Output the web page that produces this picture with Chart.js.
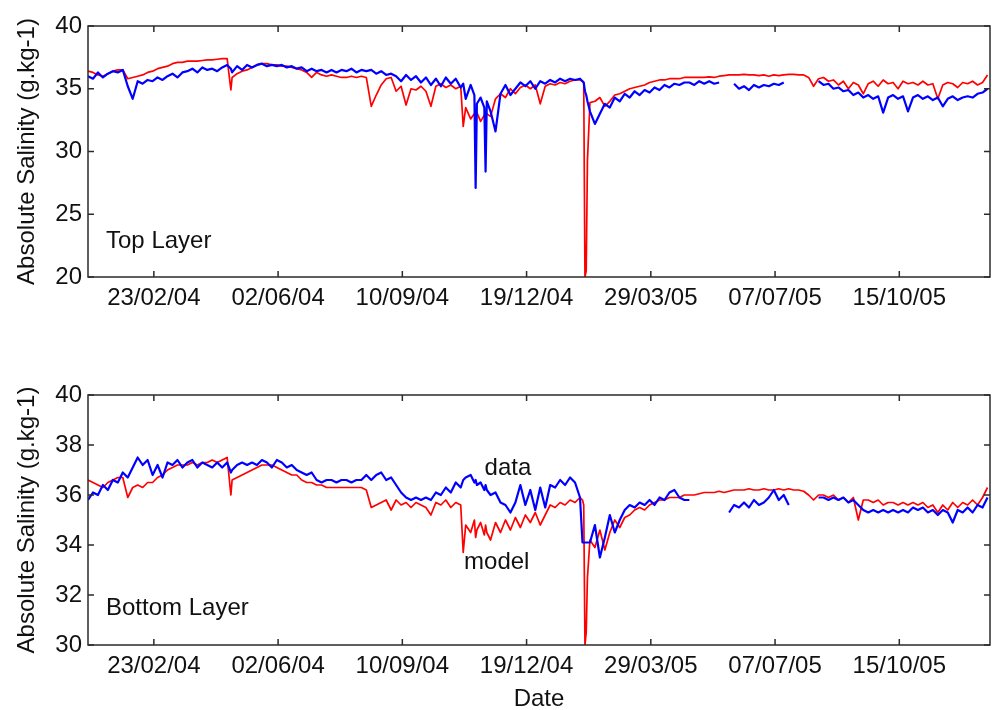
<!DOCTYPE html>
<html><head><meta charset="utf-8">
<script src="https://cdn.jsdelivr.net/npm/chart.js@4/dist/chart.umd.min.js"></script>
<style>
html,body{margin:0;padding:0;background:#fff;overflow:hidden;}
#wrap{position:relative;width:992px;height:710px;}
canvas{position:absolute;left:0;}
</style></head><body>
<div id="wrap">
<canvas id="c1" width="992" height="330" style="top:0px"></canvas>
<canvas id="c2" width="992" height="384" style="top:330px"></canvas>
</div>
<script>
// Days since 01/01/2004
const days = [
  0,4,8,12,16,20,24,28,32,36,
  40,44,48,52,56,60,64,68,72,76,
  80,84,88,92,96,100,104,108,112,115,
  116,120,124,128,132,136,140,144,148,152,
  156,160,164,168,172,176,180,184,188,192,
  196,200,204,208,212,216,220,224,228,232,
  236,240,244,248,252,256,260,264,268,272,
  276,280,284,288,292,296,300,302,304,308,
  311,312,313,316,319,320,321,324,328,332,
  336,340,344,348,352,356,360,364,368,372,
  376,380,384,388,392,396,398,399,400,401,
  402,404,408,412,416,420,424,428,432,436,
  440,444,448,452,456,460,464,468,472,476,
  480,484,488,492,496,500,504,508,512,516,
  520,524,528,532,536,540,544,548,552,556,
  560,564,568,572,576,580,584,588,592,596,
  600,604,608,612,616,620,624,628,632,636,
  640,644,648,652,656,660,664,668,672,676,
  680,684,688,692,696,700,704,708,712,716,
  720,724
];

const topModel = [
  36.4,36.3,36.1,36.0,36.2,36.4,36.5,36.5,35.8,35.9,
  36.0,36.1,36.3,36.4,36.6,36.7,36.8,37.0,37.1,37.1,
  37.2,37.2,37.2,37.25,37.3,37.3,37.35,37.4,37.4,34.9,
  35.9,36.2,36.4,36.5,36.7,36.9,37.0,37.0,36.9,36.9,
  36.8,36.8,36.7,36.6,36.5,36.3,35.9,36.3,36.1,36.0,
  36.1,36.0,35.9,35.9,36.0,35.9,36.0,35.9,33.6,34.5,
  35.3,35.8,35.9,34.8,35.2,33.7,35.0,34.9,35.2,34.8,
  33.6,35.2,35.4,35.1,35.3,35.0,35.2,32.0,33.5,32.6,
  33.0,33.3,33.1,32.4,32.9,33.2,33.0,32.8,34.2,34.6,
  34.3,35.0,34.6,35.1,35.3,35.0,35.3,33.8,35.2,35.4,
  35.3,35.5,35.4,35.6,35.7,35.7,35.6,35.5,20.0,20.5,
  29.3,33.9,34.0,34.3,33.6,34.0,34.5,34.6,34.8,35.0,
  35.1,35.2,35.3,35.5,35.6,35.7,35.7,35.8,35.8,35.8,
  35.9,35.9,35.9,35.9,35.9,35.95,35.9,36.0,36.05,36.1,
  36.1,36.1,36.15,36.1,36.1,36.05,36.1,36.0,36.1,36.05,
  36.1,36.15,36.15,36.1,36.1,35.9,35.2,35.8,35.9,35.6,
  35.7,35.3,35.6,35.0,35.5,35.3,34.6,35.4,35.6,35.2,
  35.7,35.4,35.5,35.0,35.6,35.4,35.5,35.3,35.6,35.3,
  35.4,34.2,35.3,35.5,35.4,35.1,35.5,35.4,35.6,35.3,
  35.5,36.1
];

const topData = [
  36.0,35.8,36.3,35.9,36.2,36.4,36.3,36.5,35.2,34.2,
  35.6,35.4,35.7,35.6,35.9,35.7,36.0,36.2,35.9,36.3,
  36.4,36.6,36.3,36.7,36.5,36.6,36.4,36.7,36.9,36.6,
  36.3,36.8,36.5,36.9,36.7,36.9,37.0,36.8,36.9,36.8,
  36.9,36.7,36.8,36.6,36.7,36.4,36.6,36.4,36.5,36.3,
  36.5,36.3,36.5,36.4,36.6,36.3,36.5,36.4,36.5,36.2,
  36.4,36.1,36.2,36.0,35.6,36.1,35.7,36.0,35.5,35.9,
  35.3,35.8,35.2,35.9,35.4,35.8,35.1,35.4,34.2,35.3,
  34.5,27.1,33.8,34.3,33.5,28.4,34.0,33.2,31.6,34.6,
  35.3,34.5,35.0,35.5,35.2,35.6,35.0,35.6,35.4,35.7,
  35.5,35.8,35.6,35.8,35.7,35.8,35.6,35.5,34.8,34.5,
  34.0,33.2,32.2,33.0,33.8,33.5,34.3,34.0,34.6,34.3,
  34.8,34.5,34.9,34.7,35.1,34.9,35.3,35.1,35.4,35.3,
  35.5,35.5,35.3,35.6,35.4,35.6,35.4,35.5,null,null,
  35.4,35.0,35.2,34.9,35.3,35.1,35.3,35.2,35.4,35.3,
  35.5,null,null,null,null,null,null,35.6,35.3,35.4,
  35.0,35.1,34.8,34.9,34.5,34.7,34.3,34.5,34.2,34.4,
  33.1,34.3,34.5,34.2,34.4,33.2,34.3,34.5,34.2,34.4,
  34.1,34.3,33.6,34.2,34.4,34.1,34.3,34.4,34.3,34.6,
  34.7,35.0
];

const bottomModel = [
  36.6,36.5,36.4,36.3,36.5,36.6,36.7,36.7,35.9,36.3,
  36.4,36.3,36.5,36.5,36.7,36.8,37.0,37.1,37.2,37.2,
  37.2,37.3,37.2,37.3,37.3,37.4,37.3,37.4,37.5,36.0,
  36.6,36.7,36.8,36.9,37.0,37.1,37.2,37.2,37.2,37.1,
  37.0,36.9,36.8,36.8,36.6,36.5,36.5,36.4,36.4,36.3,
  36.3,36.3,36.3,36.3,36.3,36.3,36.3,36.2,35.5,35.6,
  35.7,35.8,35.4,35.8,35.6,35.7,35.5,35.7,35.6,35.5,
  35.2,35.7,35.6,35.8,35.5,35.7,35.6,33.7,34.8,34.5,
  35.0,34.3,34.6,34.9,34.4,34.8,34.5,34.2,34.9,34.5,
  35.0,34.6,35.1,34.7,35.2,34.9,35.3,34.8,35.2,35.6,
  35.5,35.7,35.6,35.8,35.7,35.9,35.8,35.6,30.0,30.5,
  32.7,34.2,33.9,34.6,33.8,34.5,35.0,34.7,35.1,35.2,
  35.4,35.5,35.4,35.6,35.7,35.8,35.8,35.9,35.9,35.9,
  36.0,36.0,36.0,36.05,36.1,36.1,36.1,36.15,36.1,36.15,
  36.2,36.2,36.2,36.25,36.2,36.2,36.25,36.2,36.2,36.25,
  36.2,36.25,36.2,36.2,36.15,36.0,35.8,36.0,36.0,35.9,
  36.0,35.8,35.9,35.7,35.9,35.0,35.8,35.8,35.7,35.8,
  35.6,35.7,35.7,35.6,35.7,35.6,35.7,35.6,35.7,35.5,
  35.6,35.3,35.6,35.4,35.7,35.5,35.7,35.6,35.8,35.6,
  35.9,36.3
];

const bottomData = [
  35.8,36.1,36.0,36.4,36.2,36.6,36.5,36.9,36.7,37.1,
  37.5,37.2,37.4,36.8,37.2,36.7,37.3,37.2,37.4,37.1,
  37.3,37.4,37.1,37.3,37.2,37.1,37.3,37.1,37.3,36.9,
  37.0,37.2,37.3,37.2,37.3,37.2,37.4,37.3,37.1,37.4,
  37.3,37.1,37.2,37.0,36.9,36.8,36.9,36.6,36.5,36.6,
  36.6,36.5,36.6,36.6,36.5,36.6,36.6,36.8,36.6,36.8,
  36.9,36.6,36.7,36.4,36.1,35.9,35.8,35.9,35.8,35.9,
  35.8,36.1,36.0,36.3,36.1,36.5,36.3,36.6,36.7,36.8,
  36.5,36.6,36.4,36.5,36.2,36.4,36.2,36.0,36.1,35.7,
  35.6,35.3,35.7,36.4,35.6,36.2,35.4,36.3,35.5,36.4,
  36.3,36.6,36.4,36.7,36.5,35.9,34.1,34.1,34.1,34.1,
  34.1,34.1,34.8,33.5,34.3,35.2,34.5,35.0,35.4,35.6,
  35.5,35.7,35.6,35.8,35.6,35.9,35.8,36.1,36.2,35.9,
  35.8,35.8,null,null,null,null,null,null,null,35.3,
  35.6,35.5,35.7,35.5,35.8,35.6,35.7,35.9,36.2,35.8,
  36.0,35.6,null,null,null,null,null,35.9,35.9,35.8,
  35.9,35.8,35.9,35.7,35.8,35.6,35.4,35.3,35.4,35.3,
  35.4,35.3,35.4,35.3,35.4,35.3,35.5,35.4,35.5,35.3,
  35.4,35.2,35.4,35.3,34.9,35.4,35.3,35.5,35.3,35.6,
  35.5,35.9
];

const tickDays = [53,153,253,353,453,553,653];
const tickLabels = ['23/02/04','02/06/04','10/09/04','19/12/04','29/03/05','07/07/05','15/10/05'];
const topYTicks = [20,25,30,35,40];
const bottomYTicks = [30,32,34,36,38,40];

const FONT = "'Liberation Sans', Arial, Helvetica, sans-serif";
const FS = 24;
const TXT = '#111';

const framePlugin = {
  id: 'frame',
  afterDraw(chart, args, opts) {
    const {ctx, chartArea: a, scales: {x, y}} = chart;
    ctx.save();
    ctx.strokeStyle = '#2b2b2b';
    ctx.lineWidth = 1.5;
    ctx.strokeRect(a.left, a.top, a.right - a.left, a.bottom - a.top);
    const L = 6;
    ctx.beginPath();
    x.ticks.forEach(t => {
      const px = x.getPixelForValue(t.value);
      ctx.moveTo(px, a.bottom); ctx.lineTo(px, a.bottom - L);
      ctx.moveTo(px, a.top); ctx.lineTo(px, a.top + L);
    });
    y.ticks.forEach(t => {
      const py = y.getPixelForValue(t.value);
      ctx.moveTo(a.left, py); ctx.lineTo(a.left + L, py);
      ctx.moveTo(a.right, py); ctx.lineTo(a.right - L, py);
    });
    ctx.stroke();
    ctx.fillStyle = TXT;
    ctx.font = FS + 'px ' + FONT;
    ctx.textBaseline = 'middle';
    (opts.labels || []).forEach(l => {
      ctx.textAlign = l.align || 'left';
      ctx.fillText(l.text, x.getPixelForValue(l.day), y.getPixelForValue(l.value));
    });
    ctx.restore();
  }
};

function makeChart(id, yMin, yMax, yTicks, dataSeries, modelSeries, opts) {
  const pts = arr => days.map((d, i) => ({x: d, y: arr[i]}));
  return new Chart(document.getElementById(id), {
    type: 'line',
    data: {
      datasets: [
        {label: 'data', data: pts(dataSeries), borderColor: '#0000ff', borderWidth: 2.2,
         pointRadius: 0, tension: 0, spanGaps: false, borderJoinStyle: 'round'},
        {label: 'model', data: pts(modelSeries), borderColor: '#ff0000', borderWidth: 1.7,
         pointRadius: 0, tension: 0, spanGaps: false, borderJoinStyle: 'round'}
      ]
    },
    options: {
      responsive: false,
      animation: false,
      devicePixelRatio: 1,
      layout: {padding: {top: opts.padTop, right: 2, left: 0, bottom: 0}},
      plugins: {
        legend: {display: false},
        tooltip: {enabled: false},
        frame: {labels: opts.labels}
      },
      scales: {
        x: {
          type: 'linear', min: 0, max: 726,
          afterBuildTicks: s => { s.ticks = tickDays.map(v => ({value: v})); },
          ticks: {callback: (v, i) => tickLabels[i], maxRotation: 0, autoSkip: false,
                  font: {family: FONT, size: FS}, color: TXT, padding: 7},
          grid: {display: false, drawTicks: false},
          border: {display: false},
          title: {display: !!opts.xTitle, text: opts.xTitle || '', font: {family: FONT, size: FS},
                  color: TXT, padding: {top: 0, bottom: 0}},
          afterFit: s => { s.height = opts.xHeight; }
        },
        y: {
          min: yMin, max: yMax,
          afterBuildTicks: s => { s.ticks = yTicks.map(v => ({value: v})); },
          ticks: {font: {family: FONT, size: FS}, color: TXT, padding: 6},
          grid: {display: false, drawTicks: false},
          border: {display: false},
          title: {display: true, text: 'Absolute Salinity (g.kg-1)', font: {family: FONT, size: FS},
                  color: TXT, padding: {top: 13, bottom: 0}},
          afterFit: s => { s.width = 88; }
        }
      }
    },
    plugins: [framePlugin]
  });
}

makeChart('c1', 20, 40, topYTicks, topData, topModel, {
  padTop: 26, xHeight: 53,
  labels: [{text: 'Top Layer', day: 14.5, value: 22.8}]
});
makeChart('c2', 30, 40, bottomYTicks, bottomData, bottomModel, {
  padTop: 65, xHeight: 69, xTitle: 'Date',
  labels: [
    {text: 'Bottom Layer', day: 14.5, value: 31.48},
    {text: 'data', day: 338, value: 37.08, align: 'center'},
    {text: 'model', day: 329, value: 33.32, align: 'center'}
  ]
});
</script>
</body></html>
